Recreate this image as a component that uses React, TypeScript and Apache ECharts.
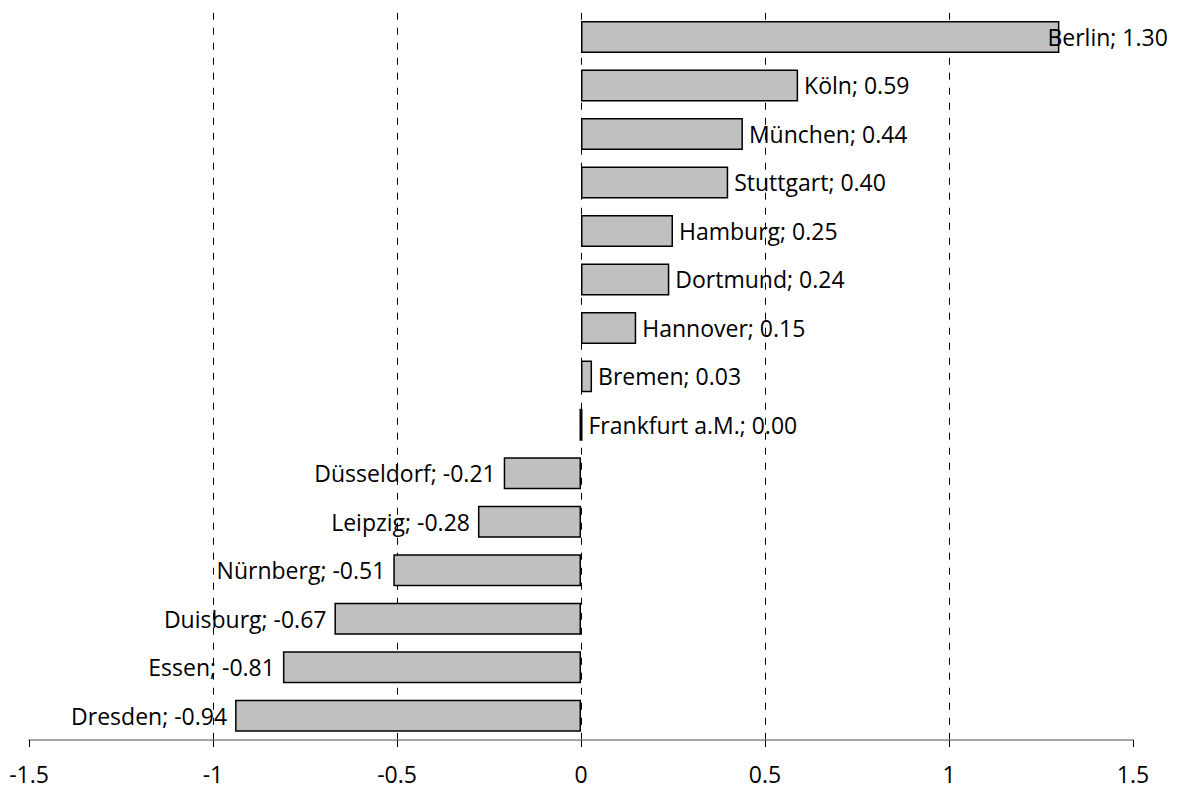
import React, { useEffect, useRef } from "react";
import * as echarts from "echarts";

const cities = [
  "Berlin", "Köln", "München", "Stuttgart", "Hamburg", "Dortmund", "Hannover", "Bremen",
  "Frankfurt a.M.", "Düsseldorf", "Leipzig", "Nürnberg", "Duisburg", "Essen", "Dresden",
];
const values = [1.3, 0.59, 0.44, 0.4, 0.25, 0.24, 0.15, 0.03, 0.0, -0.21, -0.28, -0.51, -0.67, -0.81, -0.94];
const xMin = -1.5;
const xMax = 1.5;
const xStep = 0.5;

const FONT = "'Open Sans', 'Noto Sans', sans-serif";

export default function App() {
  const ref = useRef<HTMLDivElement>(null);
  useEffect(() => {
    if (!ref.current) return;
    const chart = echarts.init(ref.current, null, { renderer: "svg" });
    const data = values.map((v, i) => {
      const item: any = { value: v, name: cities[i] };
      if (v < 0) {
        item.label = { position: "left", distance: 8 };
      } else if (i === 0) {
        item.label = { position: "right", distance: 6, offset: [-18, 0] };
      } else {
        item.label = { position: "right", distance: 6 };
      }
      if (v === 0) {
        item.itemStyle = { borderWidth: 3 };
      }
      return item;
    });
    chart.setOption({
      animation: false,
      grid: { left: 29, right: 48, top: 12.75, bottom: 52, containLabel: false },
      xAxis: {
        type: "value",
        min: xMin,
        max: xMax,
        interval: xStep,
        axisLine: { show: true, onZero: false, lineStyle: { color: "#868686", width: 1.5 } },
        axisTick: { show: true, length: 7, lineStyle: { color: "#000", width: 1 } },
        axisLabel: {
          margin: 22,
          fontFamily: FONT,
          fontSize: 23,
          color: "#000",
          formatter: (v: number) => String(Math.round(v * 10) / 10),
        },
        splitLine: {
          show: true,
          showMinLine: false,
          showMaxLine: false,
          lineStyle: { type: [7, 8], color: "#000", width: 1 },
        },
      },
      yAxis: {
        type: "category",
        data: cities,
        inverse: true,
        axisLine: { show: false },
        axisTick: { show: false },
        axisLabel: { show: false },
        splitLine: { show: false },
      },
      series: [
        {
          type: "bar",
          data,
          barWidth: "66%",
          itemStyle: { color: "#c0c0c0", borderColor: "#000", borderWidth: 1.5 },
          label: {
            show: true,
            fontFamily: FONT,
            fontSize: 23,
            color: "#000",
            formatter: (p: any) => `${p.name}; ${Number(p.value).toFixed(2)}`,
          },
        },
      ],
    });
    return () => chart.dispose();
  }, []);
  return <div ref={ref} style={{ width: 1181, height: 792, margin: -8 }} />;
}
